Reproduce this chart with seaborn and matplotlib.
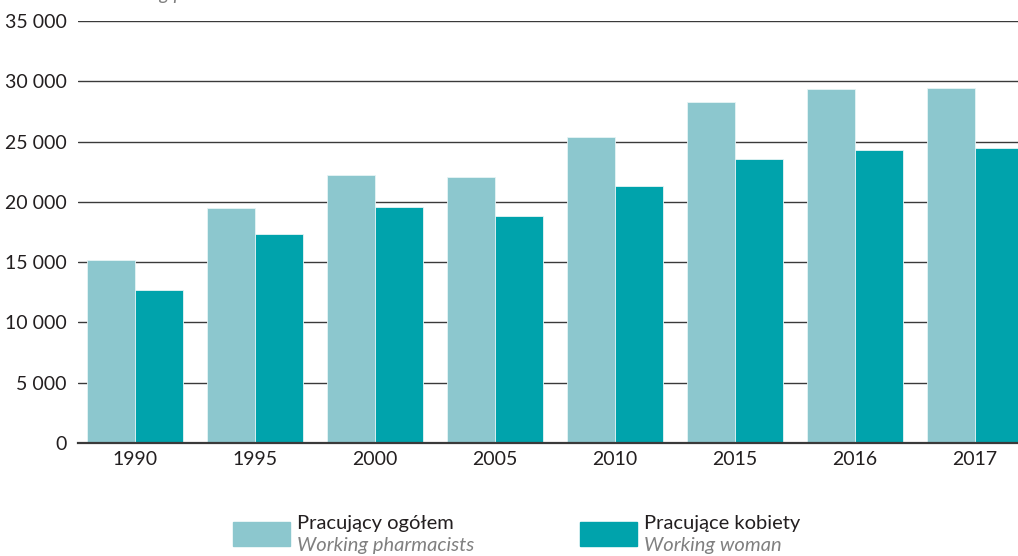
import pandas as pd
import seaborn as sns
import matplotlib.pyplot as plt
from matplotlib.patches import Rectangle

# values
years = ['1990', '1995', '2000', '2005', '2010', '2015', '2016', '2017']
total = [15200, 19520, 22230, 22060, 25380, 28260, 29390, 29470]
women = [12650, 17360, 19570, 18830, 21320, 23550, 24300, 24440]

series_pl = ['Pracujący ogółem', 'Pracujące kobiety']
series_en = ['Working pharmacists', 'Working woman']
colors = ['#8cc7ce', '#00a3ac']

df = pd.DataFrame({
    'year': years * 2,
    'value': total + women,
    'series': [series_pl[0]] * len(years) + [series_pl[1]] * len(years),
})

sns.set_style('white')
plt.rcParams['font.family'] = ['Lato', 'DejaVu Sans']

fig = plt.figure(figsize=(10.18, 5.56), dpi=100)
ax = fig.add_axes([0.0766, 0.2032, 0.9234, 0.759])

sns.barplot(data=df, x='year', y='value', hue='series', palette=colors,
            saturation=1, width=0.8, edgecolor='#e6f4f5', linewidth=0.6,
            legend=False, ax=ax, zorder=3)

ax.set_xlim(-0.475, 7.36)
ax.set_ylim(0, 35000)
yt = list(range(0, 35001, 5000))
ax.set_yticks(yt)
ax.set_yticklabels([f'{v:,}'.replace(',', ' ') for v in yt], fontsize=14, color='#231f20')
ax.tick_params(axis='x', labelsize=14, colors='#231f20', length=0, pad=6)
ax.tick_params(axis='y', length=0, pad=8)
ax.set_xlabel('')
ax.set_ylabel('')
ax.yaxis.grid(True, color='#3a3a3a', linewidth=1.0, zorder=0)
ax.set_axisbelow(True)
for s in ['top', 'right', 'left']:
    ax.spines[s].set_visible(False)
ax.spines['bottom'].set_color('#3a3a3a')
ax.spines['bottom'].set_linewidth(1.6)
ax.spines['bottom'].set_zorder(4)

# subtitle mostly outside the top edge, as in the reference
fig.text(0.098, 1.0, 'Working pharmacists', fontsize=14, style='italic',
         color='#808080', va='baseline', ha='left')

# legend below the chart
leg_x = [233, 580]
for i in range(2):
    x0 = leg_x[i] / 1018
    fig.patches.append(Rectangle((x0, 1 - 546 / 556), 57 / 1018, 24 / 556,
                                 transform=fig.transFigure, color=colors[i]))
    fig.text(x0 + 64 / 1018, 1 - 523 / 556, series_pl[i], fontsize=14.5,
             color='#231f20', va='center', ha='left')
    fig.text(x0 + 64 / 1018, 1 - 546 / 556, series_en[i], fontsize=14.5,
             style='italic', color='#808080', va='center', ha='left')

fig.savefig('out.png', dpi=100)
